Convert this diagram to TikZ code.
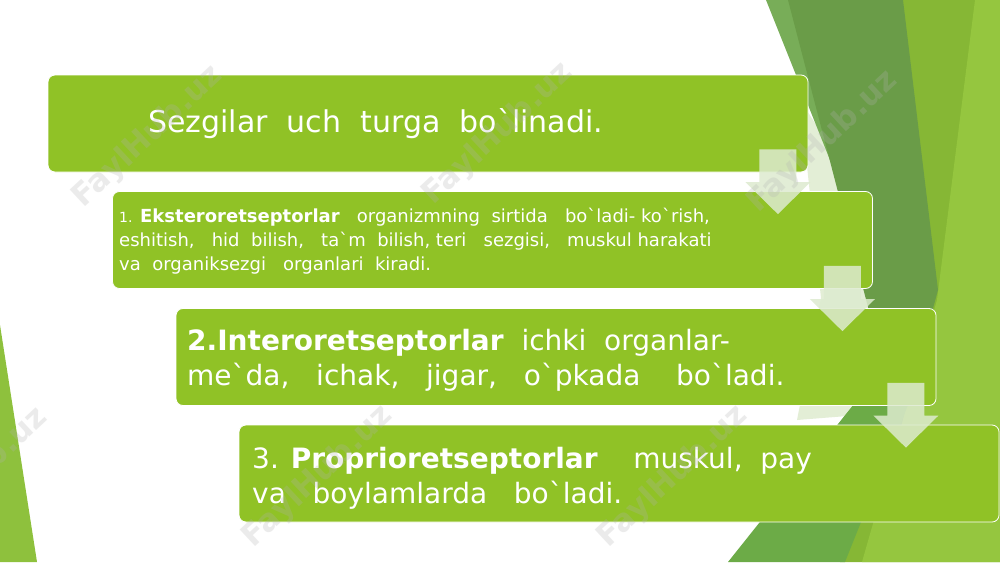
\documentclass[tikz,border=0pt]{standalone}
\usepackage{fontspec}
\newfontfamily\stepfont{DejaVu Sans}[WordSpace=0.9]
\newfontfamily\wmfont{DejaVu Sans}
\usepackage{tikz}
\usetikzlibrary{positioning,calc}
\definecolor{boxgreen}{HTML}{90C226}
\definecolor{arrowgreen}{HTML}{DDEBCF}
\definecolor{leftgreen}{HTML}{8EC13D}
\definecolor{olivegreen}{HTML}{86B735}
\definecolor{brightgreen}{HTML}{95C63F}
\definecolor{darkgreen}{HTML}{6A9C48}
\definecolor{slivergreen}{HTML}{78AD58}
\definecolor{midgreen}{HTML}{6CAB47}
\definecolor{palegreen}{HTML}{E3EED6}

\begin{document}
\begin{tikzpicture}[x=1pt,y=-1pt,
  stepbox/.style={rectangle,rounded corners=7pt,fill=boxgreen,draw=white,line width=.8pt,
    minimum width=760pt,minimum height=97pt,inner sep=0pt},
  steptext/.style={anchor=west,inner sep=0pt,text=white,align=left},
  stepdown/.style={fill=arrowgreen,fill opacity=.85},
  wmark/.style={text=gray!60,opacity=.25,rotate=43,font=\wmfont\bfseries\fontsize{31}{31}\selectfont}]
\useasboundingbox (0,0) rectangle (1000,562);
\fill[white] (0,0) rectangle (1000,562);
% facets
\fill[leftgreen] (0,325) -- (37,562) -- (0,562) -- cycle;
\fill[olivegreen] (900,0) -- (1000,0) -- (1000,562) -- (840,562) -- cycle;
\fill[brightgreen] (975,0) -- (1000,0) -- (1000,562) -- (862,562) -- (937,300) -- cycle;
\fill[palegreen] (800,100) -- (826,140) -- (875,300) -- (860,415) -- (797,420) -- (821,298) -- cycle;
\fill[slivergreen] (766,0) -- (790,0) -- (830,160) -- cycle;
\fill[darkgreen] (788,0) -- (903,0) -- (938,290) -- (900,430) -- cycle;
\fill[midgreen] (728,562) -- (905,340) -- (930,350) -- (845,562) -- cycle;
% steps
\node[stepbox] (b1) at (428,123.5) {};
\node[stepbox] (b2) at (492.5,240) {};
\node[stepbox] (b3) at (556,357) {};
\node[stepbox] (b4) at (619,473.5) {};
\node[steptext,font=\stepfont\fontsize{30}{36}\selectfont] (t1) at (148,124)
  {Sezgilar~ uch~ turga~ bo`linadi.};
\node[steptext,font=\stepfont\fontsize{18}{24}\selectfont] (t2) at (119,241)
  {{\fontsize{14}{24}\selectfont 1.} \textbf{Eksteroretseptorlar}~~ organizmning~ sirtida~~ bo`ladi- ko`rish,\\
   eshitish,~~ hid~ bilish,~~ ta`m~ bilish, teri~~ sezgisi,~~ muskul harakati\\
   va~ organiksezgi~~ organlari~ kiradi.};
\node[steptext,font=\stepfont\fontsize{28}{35}\selectfont] (t3) at (187,360)
  {\textbf{2.Interoretseptorlar}~ ichki~ organlar-\\
   me`da,~~ ichak,~~ jigar,~~ o`pkada~~~ bo`ladi.};
\node[steptext,font=\stepfont\fontsize{28}{35}\selectfont] (t4) at (252,478)
  {3. \textbf{Proprioretseptorlar}~ ~ muskul,~ pay\\
   va~~ boylamlarda~~ bo`ladi.};
% arrows between steps
\foreach \i/\j in {1/2,2/3,3/4}{
  \coordinate (s\i) at ($(b\i.south east)+(-30.5,-23)$);
  \coordinate (p\i) at ($(s\i |- b\j.north)+(0,23)$);
  \fill[stepdown] ($(s\i)+(-18.5,0)$) -- ($(s\i)+(18.5,0)$) -- ($(p\i)+(18.5,-32)$)
    -- ($(p\i)+(32.5,-32)$) -- (p\i) -- ($(p\i)+(-32.5,-32)$) -- ($(p\i)+(-18.5,-32)$) -- cycle;
}
% watermark
\foreach \x/\y [count=\k] in {148/137,498/134,823/142,-27/479,318/477,673/477}
  \node[wmark] (w\k) at (\x,\y) {FaylHub.uz};
\end{tikzpicture}
\end{document}
